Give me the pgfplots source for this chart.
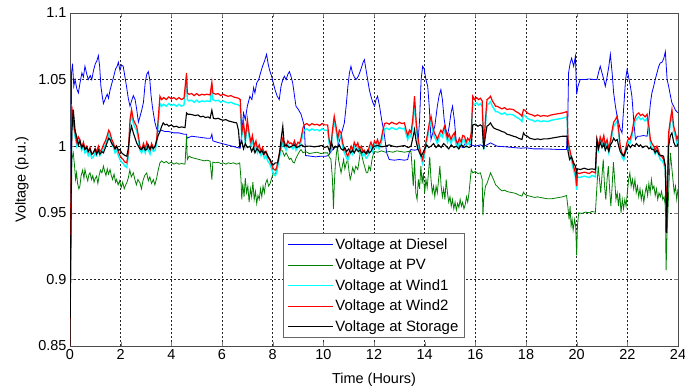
\documentclass[border=0pt]{standalone}
\usepackage{pgfplots}
\pgfplotsset{compat=1.18}
\usepackage{fontspec}
\setmainfont{Liberation Sans}
\definecolor{mblue}{RGB}{0,0,255}
\definecolor{mgreen}{RGB}{0,128,0}
\definecolor{mcyan}{RGB}{0,255,255}
\definecolor{mred}{RGB}{255,0,0}
\begin{document}
\begin{tikzpicture}
\begin{axis}[
    name=ax,
    scale only axis,
    width=608bp, height=333bp,
    xmin=0, xmax=24, ymin=0.85, ymax=1.1,
    xtick={0,2,...,24},
    ytick={0.85,0.9,0.95,1,1.05,1.1},
    yticklabels={0.85,0.9,0.95,1,1.05,1.1},
    /pgf/number format/assume math mode=true,
    font=\fontsize{14.5}{17}\selectfont,
    tick label style={font=\fontsize{14.5}{17}\selectfont},
    tick align=inside, major tick length=4bp,
    axis line style={black!70, line width=0.7bp},
    grid=major,
    major grid style={black!85, line width=0.55bp, dash pattern=on 2bp off 2bp},
    xlabel={Time (Hours)}, ylabel={Voltage (p.u.)},
    xlabel style={yshift=-6bp},
    ylabel style={yshift=3bp},
    legend cell align=left,
    legend style={at={(0.5,0.024)}, anchor=south, draw=black!60, line width=0.8bp,
        font=\fontsize{15}{18}\selectfont, row sep=4.2bp, inner xsep=4bp, inner ysep=3bp},
    legend image code/.code={\draw[#1, line width=0.8bp] (0bp,0bp) -- (45bp,0bp);},
]
% Diesel
\addplot[mblue, line width=0.8bp] coordinates {
(0,0.85)(0.03,0.95)(0.06,1.055)(0.1,1.062)(0.15,1.045)(0.2,1.05)(0.27,1.043)(0.33,1.04)(0.4,1.048)(0.47,1.055)(0.53,1.052)(0.59,1.06)(0.65,1.055)(0.72,1.05)(0.8,1.053)(0.86,1.05)(0.93,1.057)(1.0,1.062)(1.06,1.064)(1.12,1.068)(1.17,1.06)(1.22,1.045)(1.27,1.038)(1.32,1.032)(1.4,1.036)(1.47,1.039)(1.52,1.036)(1.58,1.042)(1.65,1.047)(1.72,1.052)(1.8,1.058)(1.86,1.06)(1.91,1.063)(1.97,1.057)(2.03,1.061)(2.1,1.06)(2.17,1.052)(2.23,1.045)(2.3,1.036)(2.37,1.03)(2.43,1.034)(2.5,1.038)(2.57,1.035)(2.63,1.028)(2.7,1.018)(2.76,1.022)(2.83,1.027)(2.9,1.033)(2.97,1.048)(3.03,1.054)(3.09,1.056)(3.15,1.05)(3.2,1.038)(3.25,1.03)(3.29,1.025)(3.35,1.018)(3.42,1.013)(3.5,1.011)(3.6,1.012)(3.75,1.011)(3.9,1.011)(4.1,1.01)(4.3,1.01)(4.5,1.009)(4.6,1.009)(4.62,1.006)(4.8,1.0075)(5.0,1.007)(5.2,1.0065)(5.4,1.006)(5.55,1.006)(5.6,1.009)(5.64,1.004)(5.8,1.003)(6.0,1.002)(6.2,1.001)(6.4,1.0)(6.6,0.999)(6.72,0.9985)(6.78,1.01)(6.85,1.025)(6.92,1.02)(7.0,1.03)(7.1,1.0375)(7.18,1.035)(7.25,1.044)(7.3,1.04)(7.37,1.0475)(7.45,1.05)(7.52,1.055)(7.6,1.06)(7.68,1.064)(7.76,1.069)(7.82,1.062)(7.88,1.057)(7.96,1.0525)(8.03,1.047)(8.1,1.042)(8.18,1.0375)(8.26,1.035)(8.33,1.045)(8.4,1.05)(8.46,1.0525)(8.53,1.05)(8.6,1.054)(8.66,1.056)(8.73,1.052)(8.79,1.0475)(8.86,1.038)(8.92,1.03)(9.0,1.028)(9.06,1.026)(9.12,1.024)(9.18,1.02)(9.25,1.015)(9.3,0.993)(9.5,0.9925)(9.7,0.992)(9.9,0.9925)(10.1,0.9925)(10.2,0.993)(10.3,0.996)(10.45,0.999)(10.57,1.0)(10.65,1.005)(10.75,1.012)(10.83,1.0175)(10.9,1.03)(10.97,1.045)(11.03,1.055)(11.09,1.06)(11.15,1.055)(11.22,1.052)(11.29,1.05)(11.38,1.0525)(11.45,1.056)(11.52,1.06)(11.57,1.063)(11.62,1.065)(11.68,1.058)(11.75,1.05)(11.82,1.042)(11.88,1.0375)(11.95,1.033)(12.02,1.03)(12.08,1.035)(12.14,1.0375)(12.22,1.03)(12.3,1.02)(12.4,1.01)(12.5,0.995)(12.6,0.99)(12.8,0.9895)(13.0,0.99)(13.2,0.9895)(13.33,0.99)(13.4,0.996)(13.46,0.9975)(13.6,0.997)(13.72,0.9975)(13.8,1.02)(13.86,1.05)(13.92,1.06)(13.98,1.058)(14.05,1.05)(14.12,1.045)(14.18,1.03)(14.25,1.005)(14.32,1.01)(14.4,1.015)(14.5,1.03)(14.57,1.038)(14.64,1.0425)(14.7,1.035)(14.77,1.02)(14.84,1.0125)(14.9,1.008)(14.97,1.015)(15.04,1.025)(15.1,1.03)(15.17,1.02)(15.24,1.005)(15.3,1.0)(15.4,1.001)(15.5,0.999)(15.6,1.002)(15.7,1.0025)(15.83,1.001)(16.0,1.0)(16.2,1.001)(16.35,1.0)(16.46,1.001)(16.6,1.0025)(16.86,1.0)(17.2,0.9995)(17.5,0.999)(17.8,0.9985)(18.0,0.9988)(18.3,0.998)(18.6,0.998)(19.0,0.9978)(19.3,0.9975)(19.6,0.9975)(19.65,1.02)(19.68,1.055)(19.74,1.062)(19.8,1.066)(19.88,1.06)(19.95,1.0675)(20.0,1.039)(20.05,1.045)(20.14,1.05)(20.3,1.05)(20.5,1.0505)(20.7,1.05)(20.8,1.05)(20.86,1.055)(20.93,1.06)(21.0,1.055)(21.07,1.05)(21.13,1.045)(21.2,1.052)(21.27,1.06)(21.33,1.069)(21.4,1.055)(21.46,1.04)(21.53,1.03)(21.6,1.022)(21.66,1.0175)(21.72,1.013)(21.79,1.01)(21.86,1.03)(21.93,1.05)(21.99,1.0575)(22.05,1.052)(22.12,1.045)(22.18,1.0375)(22.25,1.02)(22.32,1.005)(22.4,1.0075)(22.5,1.0075)(22.64,1.008)(22.78,1.0075)(22.85,1.02)(22.91,1.032)(22.97,1.04)(23.04,1.045)(23.1,1.05)(23.17,1.055)(23.24,1.06)(23.3,1.0625)(23.37,1.063)(23.44,1.066)(23.5,1.071)(23.57,1.05)(23.63,1.045)(23.7,1.038)(23.76,1.0325)(23.83,1.03)(23.9,1.027)(24.0,1.025)
};
\addlegendentry{Voltage at Diesel}
% PV
\addplot[mgreen, line width=0.8bp] coordinates {
(0,0.85)(0.03,0.91)(0.05,0.935)(0.07,0.99)(0.13,0.995)(0.18,0.985)(0.22,0.975)(0.26,0.98)(0.3,0.972)(0.35,0.968)(0.39,0.97)(0.44,0.978)(0.5,0.982)(0.55,0.976)(0.59,0.9825)(0.64,0.978)(0.7,0.974)(0.75,0.979)(0.79,0.98)(0.85,0.975)(0.9,0.978)(0.95,0.973)(1.0,0.976)(1.05,0.9775)(1.1,0.972)(1.15,0.978)(1.2,0.982)(1.26,0.98)(1.32,0.985)(1.37,0.981)(1.42,0.978)(1.47,0.983)(1.52,0.979)(1.58,0.9825)(1.63,0.978)(1.68,0.975)(1.74,0.979)(1.8,0.973)(1.84,0.975)(1.9,0.971)(1.96,0.974)(2.02,0.969)(2.08,0.973)(2.14,0.968)(2.2,0.971)(2.24,0.9725)(2.3,0.976)(2.36,0.982)(2.42,0.977)(2.5,0.98)(2.56,0.975)(2.62,0.971)(2.68,0.975)(2.76,0.9725)(2.82,0.968)(2.88,0.974)(2.95,0.978)(3.03,0.98)(3.09,0.974)(3.15,0.977)(3.22,0.972)(3.29,0.975)(3.35,0.971)(3.42,0.976)(3.48,0.982)(3.55,0.9875)(3.62,0.989)(3.7,0.9875)(3.8,0.9885)(3.9,0.987)(4.0,0.988)(4.1,0.9865)(4.2,0.9875)(4.3,0.9865)(4.4,0.987)(4.54,0.9865)(4.6,1.0075)(4.63,0.99)(4.7,0.9925)(4.8,0.9915)(4.9,0.991)(5.0,0.9905)(5.1,0.99)(5.2,0.9895)(5.3,0.989)(5.4,0.9895)(5.53,0.9888)(5.6,0.975)(5.64,0.988)(5.75,0.9875)(5.85,0.988)(5.95,0.987)(6.05,0.9875)(6.15,0.9865)(6.25,0.9875)(6.35,0.987)(6.45,0.9875)(6.58,0.9865)(6.7,0.9875)(6.75,0.975)(6.78,0.96)(6.82,0.972)(6.87,0.962)(6.92,0.976)(6.97,0.965)(7.02,0.97)(7.07,0.958)(7.12,0.968)(7.17,0.962)(7.22,0.973)(7.27,0.96)(7.32,0.966)(7.37,0.957)(7.42,0.963)(7.47,0.96)(7.52,0.968)(7.57,0.962)(7.62,0.97)(7.67,0.965)(7.72,0.972)(7.78,0.975)(7.84,0.97)(7.9,0.972)(7.96,0.976)(8.03,0.98)(8.1,0.978)(8.16,0.983)(8.22,0.99)(8.28,0.994)(8.34,0.9975)(8.4,0.996)(8.46,0.9925)(8.53,0.995)(8.6,0.9925)(8.66,0.99)(8.72,0.991)(8.8,0.988)(8.86,0.9875)(8.92,0.991)(9.0,0.994)(9.06,0.996)(9.12,0.9975)(9.2,0.995)(9.3,0.996)(9.45,0.9945)(9.6,0.995)(9.75,0.9955)(9.9,0.9945)(10.05,0.995)(10.17,0.995)(10.23,0.992)(10.3,0.99)(10.36,0.975)(10.4,0.953)(10.43,0.97)(10.47,0.985)(10.52,0.995)(10.56,1.0)(10.6,0.99)(10.65,0.985)(10.7,0.98)(10.75,0.985)(10.8,0.99)(10.85,0.983)(10.9,0.987)(10.96,0.99)(11.02,0.98)(11.06,0.975)(11.1,0.978)(11.16,0.984)(11.22,0.98)(11.28,0.985)(11.36,0.9825)(11.42,0.99)(11.47,0.9975)(11.52,0.993)(11.58,0.988)(11.64,0.984)(11.7,0.98)(11.75,0.98)(11.8,0.985)(11.86,0.982)(11.92,0.99)(12.0,0.996)(12.15,0.9955)(12.3,0.9965)(12.45,0.9955)(12.6,0.996)(12.75,0.9955)(12.9,0.9965)(13.05,0.996)(13.2,0.9955)(13.35,0.996)(13.46,0.996)(13.5,0.985)(13.55,0.97)(13.6,0.99)(13.65,0.965)(13.7,0.96)(13.75,0.975)(13.8,0.968)(13.85,0.985)(13.9,0.972)(13.95,0.98)(14.0,0.965)(14.05,0.975)(14.1,0.969)(14.15,0.98)(14.2,0.992)(14.25,0.975)(14.3,0.965)(14.35,0.97)(14.4,0.962)(14.45,0.97)(14.5,0.965)(14.55,0.975)(14.6,0.985)(14.65,0.97)(14.7,0.962)(14.75,0.968)(14.8,0.96)(14.85,0.975)(14.9,0.965)(14.95,0.958)(15.0,0.962)(15.05,0.955)(15.1,0.96)(15.15,0.953)(15.2,0.958)(15.25,0.952)(15.3,0.957)(15.35,0.954)(15.4,0.96)(15.45,0.955)(15.5,0.958)(15.55,0.953)(15.6,0.956)(15.65,0.962)(15.7,0.958)(15.75,0.965)(15.8,0.975)(15.84,0.9825)(15.9,0.98)(16.0,0.981)(16.1,0.9795)(16.2,0.98)(16.27,0.975)(16.3,0.948)(16.33,0.96)(16.4,0.97)(16.46,0.972)(16.53,0.976)(16.6,0.98)(16.67,0.977)(16.74,0.974)(16.8,0.971)(16.86,0.97)(16.95,0.968)(17.05,0.9665)(17.15,0.967)(17.25,0.966)(17.35,0.9655)(17.5,0.965)(17.6,0.9645)(17.7,0.9635)(17.84,0.9625)(17.9,0.9655)(17.95,0.964)(18.05,0.963)(18.15,0.9625)(18.25,0.962)(18.35,0.9615)(18.45,0.962)(18.57,0.9615)(18.7,0.961)(18.85,0.9605)(19.0,0.9605)(19.15,0.961)(19.3,0.9615)(19.45,0.962)(19.6,0.963)(19.65,0.955)(19.7,0.945)(19.74,0.955)(19.78,0.94)(19.82,0.945)(19.86,0.937)(19.92,0.945)(19.96,0.94)(20.0,0.918)(20.03,0.94)(20.08,0.95)(20.2,0.9495)(20.35,0.9505)(20.5,0.95)(20.6,0.951)(20.74,0.9505)(20.8,0.97)(20.85,0.985)(20.9,0.975)(20.95,0.965)(21.0,0.978)(21.05,0.99)(21.1,0.97)(21.15,0.96)(21.2,0.975)(21.25,0.985)(21.3,0.968)(21.35,0.955)(21.4,0.97)(21.45,0.988)(21.5,0.975)(21.55,0.96)(21.6,0.965)(21.65,0.955)(21.7,0.965)(21.75,0.95)(21.8,0.96)(21.85,0.953)(21.9,0.96)(21.95,0.955)(22.0,0.965)(22.05,0.975)(22.1,0.98)(22.15,0.97)(22.2,0.975)(22.25,0.968)(22.3,0.975)(22.35,0.965)(22.4,0.97)(22.45,0.962)(22.5,0.968)(22.55,0.96)(22.6,0.966)(22.65,0.958)(22.7,0.965)(22.75,0.97)(22.8,0.963)(22.85,0.972)(22.9,0.965)(22.95,0.975)(23.0,0.968)(23.05,0.97)(23.1,0.963)(23.15,0.968)(23.2,0.96)(23.25,0.965)(23.3,0.962)(23.35,0.966)(23.4,0.96)(23.45,0.962)(23.5,0.955)(23.53,0.907)(23.56,0.93)(23.6,0.95)(23.65,0.975)(23.7,0.995)(23.75,0.985)(23.8,0.975)(23.85,0.965)(23.9,0.97)(23.95,0.96)(24.0,0.968)
};
\addlegendentry{Voltage at PV}
% Wind1
\addplot[mcyan, line width=1.4bp] coordinates {
(0,0.85)(0.03,0.94)(0.07,1.025)(0.12,1.017)(0.2,1.007)(0.27,1.0)(0.33,1.004)(0.39,1.002)(0.46,0.997)(0.53,1.0)(0.59,0.995)(0.66,0.997)(0.72,0.993)(0.79,0.996)(0.86,0.991)(0.92,0.992)(0.99,0.995)(1.05,0.993)(1.12,0.997)(1.18,0.993)(1.25,0.995)(1.32,0.998)(1.4,1.001)(1.47,1.005)(1.53,1.009)(1.58,1.007)(1.65,1.002)(1.72,0.999)(1.78,0.995)(1.84,0.997)(1.91,0.993)(1.97,0.99)(2.04,0.988)(2.1,0.987)(2.17,0.985)(2.24,0.984)(2.3,0.992)(2.37,1.016)(2.43,1.024)(2.5,1.017)(2.57,1.014)(2.63,1.012)(2.7,1.005)(2.76,0.997)(2.83,0.995)(2.9,0.999)(2.97,0.995)(3.03,1.0)(3.09,0.997)(3.16,0.994)(3.22,0.999)(3.29,0.996)(3.36,0.997)(3.42,1.002)(3.48,1.016)(3.55,1.032)(3.62,1.03)(3.7,1.0315)(3.8,1.03)(3.9,1.032)(4.0,1.0305)(4.1,1.0315)(4.2,1.03)(4.3,1.0315)(4.4,1.03)(4.5,1.031)(4.6,1.05)(4.63,1.035)(4.7,1.034)(4.8,1.0345)(4.9,1.033)(5.0,1.0345)(5.1,1.033)(5.2,1.034)(5.3,1.0335)(5.4,1.034)(5.53,1.0335)(5.6,1.043)(5.64,1.035)(5.75,1.034)(5.85,1.0345)(5.95,1.033)(6.05,1.034)(6.15,1.033)(6.25,1.0325)(6.35,1.033)(6.45,1.032)(6.55,1.0315)(6.65,1.031)(6.72,1.03)(6.78,1.007)(6.85,1.015)(6.92,1.002)(7.0,1.017)(7.07,1.007)(7.14,1.0)(7.2,1.005)(7.27,0.997)(7.34,1.001)(7.4,0.995)(7.47,0.998)(7.54,0.993)(7.6,0.996)(7.67,0.991)(7.74,0.993)(7.8,0.989)(7.88,0.987)(7.96,0.983)(8.03,0.979)(8.1,0.978)(8.16,0.98)(8.22,0.987)(8.28,0.993)(8.33,0.997)(8.4,1.003)(8.46,1.0)(8.53,0.997)(8.6,1.001)(8.66,0.999)(8.72,0.9995)(8.8,0.998)(8.86,1.001)(8.92,0.997)(9.0,1.0)(9.06,0.999)(9.12,1.003)(9.2,1.01)(9.25,1.012)(9.35,1.013)(9.45,1.0115)(9.55,1.013)(9.65,1.012)(9.75,1.0125)(9.85,1.0115)(9.95,1.013)(10.05,1.012)(10.17,1.012)(10.23,1.002)(10.3,0.997)(10.36,1.009)(10.43,1.019)(10.5,1.012)(10.57,1.003)(10.63,1.009)(10.7,1.007)(10.77,0.999)(10.83,0.995)(10.9,0.992)(10.96,0.9895)(11.03,0.993)(11.1,0.997)(11.16,0.994)(11.22,1.0)(11.29,0.997)(11.36,0.9995)(11.42,0.995)(11.5,0.997)(11.56,0.993)(11.62,0.994)(11.69,0.991)(11.75,0.992)(11.82,0.997)(11.88,1.0)(11.95,0.996)(12.02,1.001)(12.08,0.999)(12.14,1.002)(12.2,0.998)(12.27,1.001)(12.35,1.008)(12.42,1.013)(12.5,1.0135)(12.6,1.0125)(12.7,1.014)(12.8,1.013)(12.9,1.0125)(13.0,1.014)(13.1,1.013)(13.2,1.0135)(13.27,1.009)(13.33,1.005)(13.4,1.009)(13.46,1.007)(13.53,1.016)(13.6,1.033)(13.66,1.016)(13.72,1.005)(13.79,0.997)(13.86,0.991)(13.92,0.987)(13.98,0.992)(14.05,1.0)(14.12,1.007)(14.18,1.013)(14.25,1.019)(14.32,1.012)(14.38,1.007)(14.44,1.005)(14.5,1.002)(14.57,1.006)(14.64,1.009)(14.7,1.007)(14.78,1.012)(14.84,1.008)(14.9,1.003)(14.97,1.006)(15.04,1.002)(15.1,1.005)(15.17,1.007)(15.24,1.001)(15.3,0.999)(15.37,1.003)(15.44,1.0)(15.5,1.005)(15.57,1.0045)(15.64,1.0)(15.7,1.003)(15.77,1.001)(15.84,1.007)(15.9,1.033)(15.97,1.031)(16.05,1.0325)(16.13,1.031)(16.2,1.032)(16.27,1.03)(16.33,0.997)(16.4,1.016)(16.46,1.031)(16.53,1.032)(16.6,1.0335)(16.67,1.03)(16.74,1.028)(16.8,1.026)(16.86,1.026)(16.95,1.025)(17.05,1.024)(17.15,1.025)(17.25,1.0235)(17.35,1.024)(17.5,1.0235)(17.6,1.022)(17.7,1.021)(17.8,1.0195)(17.84,1.0185)(17.9,1.0235)(17.95,1.023)(18.05,1.021)(18.15,1.02)(18.25,1.0195)(18.35,1.0185)(18.45,1.0195)(18.57,1.0185)(18.7,1.019)(18.85,1.0185)(19.0,1.0195)(19.15,1.02)(19.3,1.0205)(19.45,1.021)(19.62,1.022)(19.66,1.002)(19.72,0.995)(19.78,0.99)(19.82,0.987)(19.88,0.982)(19.95,0.977)(20.0,0.967)(20.03,0.977)(20.1,0.9765)(20.2,0.977)(20.3,0.9775)(20.4,0.977)(20.5,0.9765)(20.6,0.978)(20.74,0.977)(20.8,1.002)(20.86,0.997)(20.93,1.004)(21.0,1.0)(21.07,1.005)(21.13,0.998)(21.2,1.002)(21.27,0.995)(21.33,1.001)(21.4,1.009)(21.46,1.015)(21.53,1.017)(21.6,1.019)(21.66,1.009)(21.72,0.997)(21.79,0.992)(21.86,0.9895)(21.93,0.995)(21.99,1.0)(22.05,1.003)(22.1,1.002)(22.18,1.007)(22.25,1.015)(22.32,1.019)(22.38,1.021)(22.45,1.022)(22.52,1.02)(22.6,1.021)(22.7,1.019)(22.78,1.021)(22.85,1.012)(22.91,1.002)(22.97,0.999)(23.04,0.997)(23.1,0.994)(23.17,0.997)(23.24,0.993)(23.3,0.99)(23.37,0.989)(23.43,0.987)(23.5,0.982)(23.55,0.94)(23.58,0.967)(23.63,1.007)(23.7,1.017)(23.76,1.024)(23.83,1.012)(23.9,1.007)(23.96,1.002)(24.0,1.005)
};
\addlegendentry{Voltage at Wind1}
% Wind2
\addplot[mred, line width=1.2bp] coordinates {
(0,0.85)(0.03,0.95)(0.07,1.03)(0.12,1.02)(0.2,1.01)(0.27,1.003)(0.33,1.007)(0.39,1.005)(0.46,0.999)(0.53,1.003)(0.59,0.998)(0.66,1.0)(0.72,0.996)(0.79,0.999)(0.86,0.994)(0.92,0.995)(0.99,0.998)(1.05,0.996)(1.12,1.0)(1.18,0.996)(1.25,0.9975)(1.32,1.001)(1.4,1.004)(1.47,1.008)(1.53,1.012)(1.58,1.01)(1.65,1.005)(1.72,1.002)(1.78,0.998)(1.84,1.0)(1.91,0.996)(1.97,0.993)(2.04,0.991)(2.1,0.99)(2.17,0.988)(2.24,0.9875)(2.3,0.995)(2.37,1.02)(2.43,1.0275)(2.5,1.02)(2.57,1.017)(2.63,1.015)(2.7,1.008)(2.76,1.0)(2.83,0.9975)(2.9,1.002)(2.97,0.998)(3.03,1.003)(3.09,1.0)(3.16,0.997)(3.22,1.002)(3.29,0.999)(3.36,1.0)(3.42,1.005)(3.48,1.02)(3.55,1.0375)(3.62,1.035)(3.7,1.0365)(3.8,1.035)(3.9,1.037)(4.0,1.0355)(4.1,1.0365)(4.2,1.035)(4.3,1.0365)(4.4,1.035)(4.5,1.036)(4.6,1.055)(4.63,1.04)(4.7,1.039)(4.8,1.0395)(4.9,1.038)(5.0,1.0395)(5.1,1.038)(5.2,1.039)(5.3,1.0385)(5.4,1.039)(5.53,1.0385)(5.6,1.048)(5.64,1.04)(5.75,1.039)(5.85,1.0395)(5.95,1.038)(6.05,1.039)(6.15,1.038)(6.25,1.0375)(6.35,1.038)(6.45,1.037)(6.55,1.0365)(6.65,1.036)(6.72,1.035)(6.78,1.01)(6.85,1.018)(6.92,1.005)(7.0,1.02)(7.07,1.01)(7.14,1.003)(7.2,1.008)(7.27,1.0)(7.34,1.004)(7.4,0.998)(7.47,1.001)(7.54,0.996)(7.6,0.999)(7.67,0.994)(7.74,0.996)(7.8,0.992)(7.88,0.99)(7.96,0.986)(8.03,0.983)(8.1,0.982)(8.16,0.984)(8.22,0.99)(8.28,0.996)(8.33,1.0)(8.4,1.006)(8.46,1.003)(8.53,1.0)(8.6,1.004)(8.66,1.002)(8.72,1.0025)(8.8,1.001)(8.86,1.004)(8.92,1.0)(9.0,1.003)(9.06,1.002)(9.12,1.006)(9.2,1.014)(9.25,1.016)(9.35,1.017)(9.45,1.0155)(9.55,1.017)(9.65,1.016)(9.75,1.0165)(9.85,1.0155)(9.95,1.017)(10.05,1.016)(10.17,1.016)(10.23,1.005)(10.3,1.0)(10.36,1.012)(10.43,1.0225)(10.5,1.015)(10.57,1.006)(10.63,1.012)(10.7,1.01)(10.77,1.002)(10.83,0.998)(10.9,0.995)(10.96,0.9925)(11.03,0.996)(11.1,1.0)(11.16,0.997)(11.22,1.003)(11.29,1.0)(11.36,1.0025)(11.42,0.998)(11.5,1.0)(11.56,0.996)(11.62,0.997)(11.69,0.994)(11.75,0.995)(11.82,1.0)(11.88,1.003)(11.95,0.999)(12.02,1.004)(12.08,1.002)(12.14,1.005)(12.2,1.001)(12.27,1.004)(12.35,1.012)(12.42,1.017)(12.5,1.0175)(12.6,1.0165)(12.7,1.018)(12.8,1.017)(12.9,1.0165)(13.0,1.018)(13.1,1.017)(13.2,1.0175)(13.27,1.012)(13.33,1.008)(13.4,1.012)(13.46,1.01)(13.53,1.02)(13.6,1.0375)(13.66,1.02)(13.72,1.008)(13.79,1.0)(13.86,0.994)(13.92,0.99)(13.98,0.995)(14.05,1.003)(14.12,1.01)(14.18,1.017)(14.25,1.0225)(14.32,1.015)(14.38,1.01)(14.44,1.008)(14.5,1.005)(14.57,1.009)(14.64,1.012)(14.7,1.01)(14.78,1.015)(14.84,1.011)(14.9,1.006)(14.97,1.009)(15.04,1.005)(15.1,1.008)(15.17,1.01)(15.24,1.004)(15.3,1.002)(15.37,1.006)(15.44,1.003)(15.5,1.008)(15.57,1.0075)(15.64,1.003)(15.7,1.006)(15.77,1.004)(15.84,1.01)(15.9,1.0375)(15.97,1.035)(16.05,1.0365)(16.13,1.035)(16.2,1.036)(16.27,1.034)(16.33,1.0)(16.4,1.02)(16.46,1.035)(16.53,1.036)(16.6,1.0375)(16.67,1.034)(16.74,1.032)(16.8,1.03)(16.86,1.03)(16.95,1.029)(17.05,1.028)(17.15,1.029)(17.25,1.0275)(17.35,1.028)(17.5,1.0275)(17.6,1.026)(17.7,1.025)(17.8,1.0235)(17.84,1.0225)(17.9,1.0275)(17.95,1.027)(18.05,1.025)(18.15,1.024)(18.25,1.0235)(18.35,1.0225)(18.45,1.0235)(18.57,1.0225)(18.7,1.023)(18.85,1.0225)(19.0,1.0235)(19.15,1.024)(19.3,1.0245)(19.45,1.025)(19.62,1.026)(19.66,1.005)(19.72,0.998)(19.78,0.993)(19.82,0.99)(19.88,0.985)(19.95,0.98)(20.0,0.97)(20.03,0.98)(20.1,0.9795)(20.2,0.98)(20.3,0.9805)(20.4,0.98)(20.5,0.9795)(20.6,0.981)(20.74,0.98)(20.8,1.005)(20.86,1.0)(20.93,1.007)(21.0,1.003)(21.07,1.008)(21.13,1.001)(21.2,1.005)(21.27,0.998)(21.33,1.004)(21.4,1.012)(21.46,1.018)(21.53,1.02)(21.6,1.0225)(21.66,1.012)(21.72,1.0)(21.79,0.995)(21.86,0.9925)(21.93,0.998)(21.99,1.003)(22.05,1.006)(22.1,1.005)(22.18,1.01)(22.25,1.018)(22.32,1.022)(22.38,1.024)(22.45,1.025)(22.52,1.023)(22.6,1.024)(22.7,1.022)(22.78,1.024)(22.85,1.015)(22.91,1.005)(22.97,1.002)(23.04,1.0)(23.1,0.997)(23.17,1.0)(23.24,0.996)(23.3,0.993)(23.37,0.992)(23.43,0.99)(23.5,0.985)(23.55,0.94)(23.58,0.97)(23.63,1.01)(23.7,1.02)(23.76,1.0275)(23.83,1.015)(23.9,1.01)(23.96,1.005)(24.0,1.008)
};
\addlegendentry{Voltage at Wind2}
% Storage
\addplot[black, line width=1.1bp] coordinates {
(0,0.85)(0.03,0.93)(0.07,1.01)(0.13,1.0275)(0.2,1.012)(0.26,1.0075)(0.33,1.001)(0.39,1.004)(0.46,0.999)(0.53,1.001)(0.59,0.9975)(0.66,0.999)(0.72,0.996)(0.79,0.998)(0.86,0.994)(0.92,0.995)(0.99,0.998)(1.05,0.994)(1.12,0.997)(1.18,0.994)(1.25,0.996)(1.32,0.995)(1.4,0.999)(1.47,1.003)(1.53,1.006)(1.58,1.005)(1.65,1.002)(1.72,1.0)(1.78,0.998)(1.84,1.0)(1.91,0.997)(1.97,0.9975)(2.04,0.995)(2.1,0.994)(2.17,0.993)(2.24,0.9925)(2.3,0.998)(2.37,1.01)(2.43,1.015)(2.5,1.01)(2.57,1.006)(2.63,1.0025)(2.7,1.0)(2.76,0.998)(2.83,0.9975)(2.9,1.0)(2.97,0.997)(3.03,0.9975)(3.09,1.001)(3.16,0.998)(3.22,1.0)(3.29,0.998)(3.36,1.0)(3.42,1.004)(3.48,1.008)(3.55,1.011)(3.62,1.015)(3.68,1.0175)(3.75,1.016)(3.82,1.0165)(3.9,1.015)(4.0,1.016)(4.1,1.0145)(4.2,1.015)(4.3,1.014)(4.4,1.0145)(4.54,1.014)(4.6,1.025)(4.65,1.024)(4.74,1.024)(4.85,1.0235)(4.95,1.023)(5.05,1.0235)(5.15,1.022)(5.25,1.0225)(5.35,1.0215)(5.45,1.022)(5.53,1.021)(5.6,1.027)(5.66,1.021)(5.75,1.0205)(5.85,1.021)(5.95,1.02)(6.05,1.0195)(6.15,1.02)(6.25,1.019)(6.35,1.0185)(6.45,1.018)(6.58,1.0175)(6.65,1.012)(6.7,1.0)(6.78,1.004)(6.85,0.998)(6.92,1.002)(7.0,0.999)(7.1,1.0)(7.17,0.996)(7.24,0.999)(7.3,0.995)(7.37,0.998)(7.44,0.997)(7.5,0.995)(7.57,0.997)(7.64,0.994)(7.7,0.996)(7.76,0.995)(7.83,0.992)(7.9,0.99)(7.96,0.9875)(8.03,0.986)(8.1,0.9875)(8.2,0.9875)(8.27,0.995)(8.33,1.005)(8.4,1.015)(8.46,1.0)(8.55,1.001)(8.65,0.999)(8.75,1.0)(8.85,1.001)(8.95,0.999)(9.05,1.0)(9.15,1.001)(9.25,0.9995)(9.35,1.0)(9.5,1.0)(9.65,0.9995)(9.8,1.0)(9.95,1.0005)(10.05,0.999)(10.17,1.0)(10.25,0.996)(10.32,1.003)(10.4,0.998)(10.47,1.0)(10.56,0.999)(10.63,1.001)(10.7,0.998)(10.78,0.997)(10.85,0.999)(10.92,0.996)(11.0,0.998)(11.08,0.995)(11.15,0.997)(11.22,0.995)(11.3,0.998)(11.38,0.996)(11.45,0.997)(11.52,0.995)(11.6,0.996)(11.68,0.9945)(11.75,0.997)(11.82,0.995)(11.88,0.996)(11.95,0.999)(12.02,1.0)(12.15,1.0005)(12.3,0.9995)(12.45,1.0)(12.6,1.001)(12.75,1.0)(12.9,0.9995)(13.05,1.0)(13.2,1.0005)(13.35,0.999)(13.46,1.0)(13.53,1.006)(13.6,1.0125)(13.66,1.004)(13.73,0.998)(13.8,0.995)(13.86,0.9925)(13.93,0.995)(14.0,0.998)(14.08,1.001)(14.16,0.999)(14.25,1.0)(14.35,1.002)(14.45,0.999)(14.55,1.001)(14.65,0.999)(14.75,1.002)(14.85,1.0)(14.95,0.998)(15.05,1.001)(15.15,0.999)(15.25,1.0)(15.35,0.998)(15.45,1.001)(15.55,0.999)(15.65,1.0)(15.75,0.999)(15.84,1.0)(15.9,1.016)(16.0,1.0165)(16.1,1.015)(16.2,1.016)(16.27,1.015)(16.33,0.998)(16.4,1.008)(16.46,1.015)(16.53,1.016)(16.6,1.0175)(16.67,1.015)(16.74,1.0135)(16.86,1.0125)(16.95,1.012)(17.05,1.011)(17.15,1.0105)(17.25,1.009)(17.35,1.0085)(17.5,1.0075)(17.6,1.007)(17.7,1.006)(17.84,1.005)(17.9,1.01)(17.95,1.0085)(18.05,1.0075)(18.15,1.006)(18.25,1.0055)(18.35,1.005)(18.45,1.0055)(18.57,1.005)(18.7,1.0055)(18.85,1.0055)(19.0,1.006)(19.15,1.0065)(19.3,1.007)(19.45,1.0075)(19.62,1.0075)(19.66,0.996)(19.72,0.99)(19.8,0.992)(19.88,0.9875)(19.95,0.985)(20.0,0.98)(20.03,0.983)(20.15,0.9825)(20.3,0.9835)(20.45,0.9825)(20.6,0.983)(20.74,0.9825)(20.8,1.005)(20.86,0.998)(20.93,1.003)(21.0,0.999)(21.07,1.002)(21.13,0.997)(21.2,1.0)(21.27,0.996)(21.33,1.001)(21.4,1.003)(21.46,1.006)(21.53,1.004)(21.6,1.005)(21.66,1.0)(21.72,0.996)(21.79,0.994)(21.86,0.9925)(21.93,0.996)(21.99,0.999)(22.05,1.001)(22.12,0.999)(22.2,1.001)(22.28,1.0)(22.36,1.002)(22.45,1.0)(22.52,1.001)(22.6,0.999)(22.7,1.0)(22.78,1.0)(22.85,0.998)(22.91,0.999)(22.97,0.9975)(23.04,0.9975)(23.1,0.995)(23.17,0.997)(23.24,0.994)(23.3,0.993)(23.37,0.993)(23.43,0.9925)(23.5,0.985)(23.55,0.935)(23.58,0.96)(23.63,1.0)(23.7,1.008)(23.76,1.01)(23.83,1.003)(23.9,1.0)(23.96,1.0)(24.0,1.002)
};
\addlegendentry{Voltage at Storage}
\end{axis}
\pgfresetboundingbox
\path[use as bounding box] ([xshift=-70bp,yshift=-43bp]ax.south west) rectangle ([xshift=7bp,yshift=13bp]ax.north east);
\end{tikzpicture}
\end{document}
